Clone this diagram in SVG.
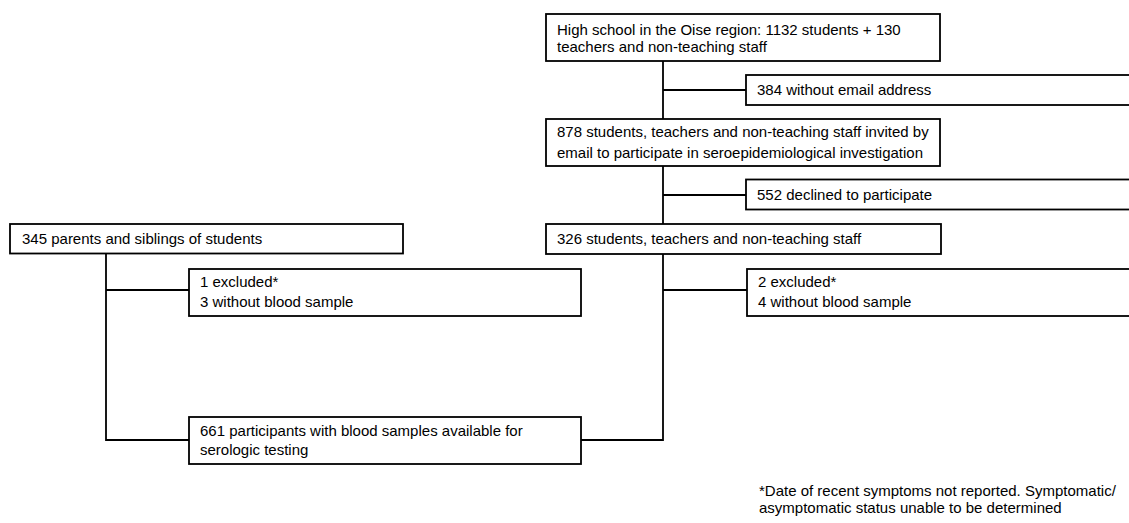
<svg xmlns="http://www.w3.org/2000/svg" width="1129" height="523" viewBox="0 0 1129 523">
<style>
.box{fill:#fff;stroke:#000;stroke-width:1.8}
.ln{fill:none;stroke:#000;stroke-width:1.8}
text{font-family:"Liberation Sans",Arial,sans-serif;font-size:15px;fill:#000}
</style>
<rect width="1129" height="523" fill="#fff"/>
<g id="connectors">
<path class="ln" d="M663,61 V119 M663,90 H746"/>
<path class="ln" d="M663,166 V224 M663,195 H746"/>
<path class="ln" d="M663,254 V440 H581 M663,290 H747"/>
<path class="ln" d="M106,253 V440 H189 M106,290 H189"/>
</g>
<g id="n1"><rect class="box" x="546" y="14" width="394" height="47"/>
<text x="557" y="35">High school in the Oise region: 1132 students + 130</text>
<text x="557" y="52">teachers and non-teaching staff</text></g>
<g id="n2"><rect class="box" x="746" y="75" width="400" height="30"/>
<text x="757" y="94.5">384 without email address</text></g>
<g id="n3"><rect class="box" x="546" y="119" width="394" height="47"/>
<text x="557" y="137">878 students, teachers and non-teaching staff invited by</text>
<text x="557" y="158">email to participate in seroepidemiological investigation</text></g>
<g id="n4"><rect class="box" x="746" y="179.5" width="400" height="30"/>
<text x="757" y="200">552 declined to participate</text></g>
<g id="n5"><rect class="box" x="546" y="224" width="395" height="30"/>
<text x="557" y="243.5">326 students, teachers and non-teaching staff</text></g>
<g id="n6"><rect class="box" x="10" y="224" width="393" height="29.5"/>
<text x="22" y="243.5">345 parents and siblings of students</text></g>
<g id="n7"><rect class="box" x="189" y="269" width="392" height="47"/>
<text x="200" y="286.5">1 excluded*</text>
<text x="200" y="306.5">3 without blood sample</text></g>
<g id="n8"><rect class="box" x="747" y="269" width="400" height="47"/>
<text x="758" y="286.5">2 excluded*</text>
<text x="758" y="306.5">4 without blood sample</text></g>
<g id="n9"><rect class="box" x="189" y="417" width="392" height="47"/>
<text x="200" y="436">661 participants with blood samples available for</text>
<text x="200" y="455">serologic testing</text></g>
<g id="footnote">
<text x="759" y="496">*Date of recent symptoms not reported. Symptomatic/</text>
<text x="759" y="513">asymptomatic status unable to be determined</text></g>
</svg>
